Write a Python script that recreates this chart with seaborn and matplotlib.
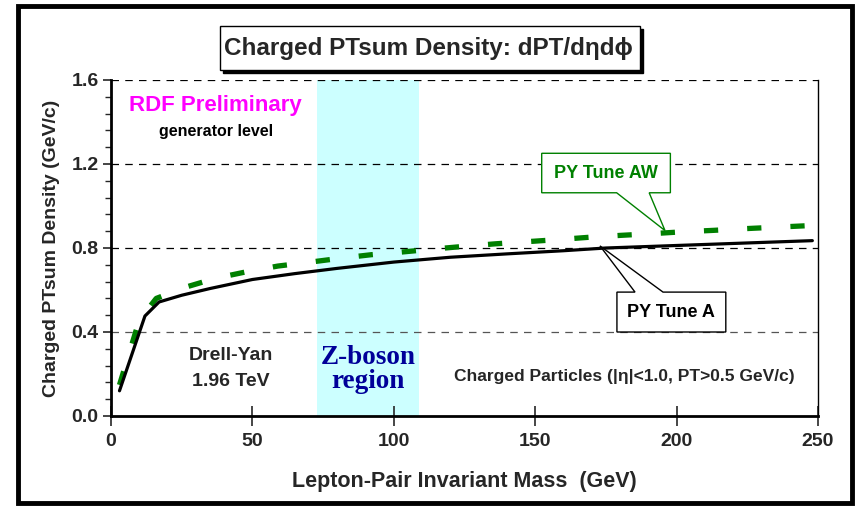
import matplotlib
matplotlib.use("Agg")
import matplotlib.pyplot as plt
from matplotlib.patches import Polygon, Rectangle
from matplotlib.ticker import MultipleLocator
import seaborn as sns
import pandas as pd

# ---- data ----
mass_a = [3, 12, 17, 25, 35, 50, 65, 80, 100, 120, 140, 160, 175, 200, 225, 248]
dens_a = [0.12, 0.476, 0.543, 0.575, 0.607, 0.650, 0.678, 0.703, 0.733, 0.756,
          0.772, 0.787, 0.800, 0.812, 0.824, 0.835]
mass_aw = [3, 10, 16, 27, 37, 48, 59, 70, 81, 92, 103, 114, 125, 136, 147, 158,
           169, 180, 191, 202, 213, 224, 235, 246]
dens_aw = [0.148, 0.457, 0.560, 0.616, 0.656, 0.687, 0.714, 0.732, 0.751, 0.768,
           0.781, 0.795, 0.808, 0.820, 0.830, 0.840, 0.851, 0.860, 0.868, 0.877,
           0.884, 0.892, 0.899, 0.906]
z_region = [73, 109]
x_ticks = [0, 50, 100, 150, 200, 250]
y_ticks = [0.0, 0.4, 0.8, 1.2, 1.6]

sns.set_theme(style="white")
plt.rcParams['font.family'] = ['Liberation Sans', 'DejaVu Sans']
plt.rcParams['font.weight'] = 'bold'

fig = plt.figure(figsize=(8.57, 5.09), dpi=100)
ax = fig.add_axes([111/857, 1-416/509, 707/857, 336/509])

# figure frame
fig.patches.append(Rectangle((18/857, 1-503/509), 834/857, 497/509, transform=fig.transFigure,
                             fill=False, edgecolor='black', linewidth=3.5, zorder=0))

ax.axvspan(z_region[0], z_region[1], color='#ccffff', zorder=0, lw=0)

df_a = pd.DataFrame({'mass': mass_a, 'dens': dens_a})
df_aw = pd.DataFrame({'mass': mass_aw, 'dens': dens_aw})
sns.lineplot(data=df_aw, x='mass', y='dens', ax=ax, color='#008000', linewidth=3.8,
             dashes=False, zorder=3)
ax.lines[-1].set_dashes([2.7, 5.5])
ax.lines[-1].set_dash_capstyle('butt')
sns.lineplot(data=df_a, x='mass', y='dens', ax=ax, color='black', linewidth=2.3, zorder=4)

ax.set_xlim(0, 250)
ax.set_ylim(0, 1.6)
ax.set_xticks(x_ticks)
ax.set_yticks(y_ticks)
ax.set_xticklabels([str(v) for v in x_ticks], fontsize=14, fontweight='bold')
ax.set_yticklabels([f"{v:.1f}" for v in y_ticks], fontsize=14, fontweight='bold')
ax.yaxis.set_minor_locator(MultipleLocator(0.08))
ax.tick_params(axis='y', which='major', direction='out', length=6, width=1.2, left=True, pad=3)
ax.tick_params(axis='y', which='minor', direction='out', length=4, width=1.0, left=True)
ax.tick_params(axis='x', which='major', direction='inout', length=14, width=1.2, bottom=True, pad=5)

for i, yv in enumerate(y_ticks[1:]):
    ax.axhline(yv, color='black' if i > 0 else '#555555', linestyle=(0, (6, 5)),
               linewidth=0.9, zorder=1)

ax.spines['top'].set_visible(False)
ax.spines['left'].set_linewidth(2)
ax.spines['bottom'].set_linewidth(2)
ax.spines['right'].set_linewidth(1)
for s in ax.spines.values():
    s.set_color('black')

ax.set_xlabel('Lepton-Pair Invariant Mass  (GeV)', fontsize=15.5, fontweight='bold', labelpad=15)
ax.set_ylabel('Charged PTsum Density (GeV/c)', fontsize=14, fontweight='bold', labelpad=8)

# text annotations
ax.text(37, 1.48, 'RDF Preliminary', color='#ff00ff', fontsize=16, fontweight='bold',
        ha='center', va='center')
ax.text(37, 1.355, 'generator level', color='black', fontsize=11.5, fontweight='bold',
        ha='center', va='center')
ax.text(42.4, 0.29, 'Drell-Yan', fontsize=14, fontweight='bold', ha='center', va='center')
ax.text(42.4, 0.163, '1.96 TeV', fontsize=14, fontweight='bold', ha='center', va='center')
ax.text(90.8, 0.22, 'Z-boson\nregion', fontsize=19.5, fontweight='bold', color='#000099',
        family='Liberation Serif', ha='center', va='center', linespacing=0.95)
ax.text(181.4, 0.187, 'Charged Particles (|η|<1.0, PT>0.5 GeV/c)', fontsize=12.5,
        fontweight='bold', ha='center', va='center')

# callouts
aw_poly = [(152.3, 1.251), (197.8, 1.251), (197.8, 1.063), (190.3, 1.063),
           (195.9, 0.883), (178.8, 1.063), (152.3, 1.063)]
ax.add_patch(Polygon(aw_poly, closed=True, facecolor='white', edgecolor='#008000',
                     linewidth=1.0, zorder=6, clip_on=False))
ax.text(175, 1.157, 'PY Tune AW', color='#008000', fontsize=13, fontweight='bold',
        ha='center', va='center', zorder=7)
a_poly = [(178.9, 0.40), (217.4, 0.40), (217.4, 0.590), (195.2, 0.590),
          (172.9, 0.81), (185.3, 0.590), (178.9, 0.590)]
ax.add_patch(Polygon(a_poly, closed=True, facecolor='white', edgecolor='black',
                     linewidth=1.0, zorder=6, clip_on=False))
ax.text(198.1, 0.495, 'PY Tune A', color='black', fontsize=13, fontweight='bold',
        ha='center', va='center', zorder=7)

# title box with shadow
fig.patches.append(Rectangle((223/857, 1-73/509), 420/857, 44/509, transform=fig.transFigure,
                             facecolor='black', edgecolor='black', zorder=1))
fig.patches.append(Rectangle((220/857, 1-70/509), 420/857, 44/509, transform=fig.transFigure,
                             facecolor='white', edgecolor='black', linewidth=1.0, zorder=2))
fig.text(428/857, 1-48/509, 'Charged PTsum Density: dPT/dηdϕ', fontsize=17.5,
         fontweight='bold', ha='center', va='center', zorder=3)

fig.savefig('out.png', dpi=100)
